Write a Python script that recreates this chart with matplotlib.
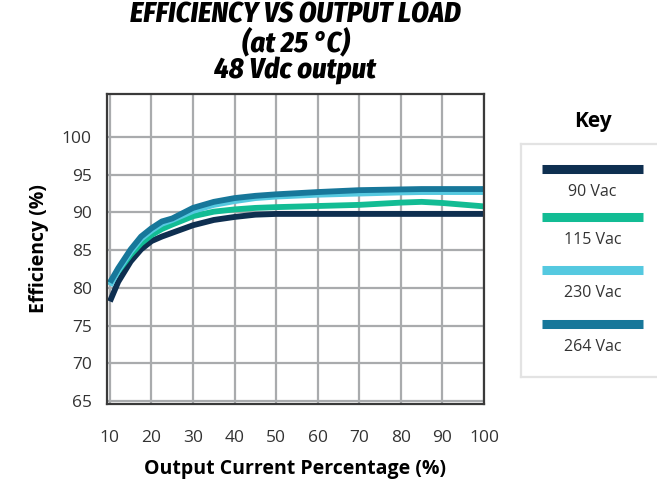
import matplotlib
matplotlib.use("Agg")
import matplotlib.pyplot as plt
from matplotlib import font_manager as fm

# ---- data ----
load_pct = [10, 12, 15, 17.5, 20, 22.5, 25, 30, 35, 40, 45, 50, 60, 70, 80, 85, 90, 100]
eff_90 = [78.2, 80.8, 83.5, 85.1, 86.2, 86.8, 87.3, 88.3, 89.0, 89.4, 89.7, 89.8, 89.8, 89.8, 89.8, 89.8, 89.8, 89.8]
eff_115 = [80.6, 82.2, 84.4, 85.9, 87.0, 87.8, 88.4, 89.5, 90.1, 90.4, 90.6, 90.7, 90.85, 91.0, 91.3, 91.4, 91.25, 90.8]
eff_230 = [80.3, 82.3, 84.8, 86.5, 87.6, 88.5, 89.0, 90.2, 91.0, 91.5, 91.9, 92.1, 92.35, 92.5, 92.65, 92.7, 92.7, 92.7]
eff_264 = [80.7, 82.6, 85.1, 86.8, 87.9, 88.8, 89.2, 90.6, 91.4, 91.9, 92.2, 92.4, 92.7, 92.95, 93.05, 93.1, 93.1, 93.1]
series_names = ["90 Vac", "115 Vac", "230 Vac", "264 Vac"]
x_ticks = [10, 20, 30, 40, 50, 60, 70, 80, 90, 100]
y_ticks = [65, 70, 75, 80, 85, 90, 95, 100]
title_lines = ["EFFICIENCY VS OUTPUT LOAD", "(at 25 °C)", "48 Vdc output"]

colors = ["#0e2f50", "#12bc94", "#55c9e0", "#17779a"]
series = [eff_90, eff_115, eff_230, eff_264]

names = {f.name for f in fm.fontManager.ttflist}
base_font = "Open Sans" if "Open Sans" in names else "DejaVu Sans"
title_font = base_font
for cand in ["Fira Sans Condensed", "Roboto Condensed", "IBM Plex Sans Condensed"]:
    if cand in names:
        title_font = cand
        break
plt.rcParams["font.family"] = [base_font, "DejaVu Sans"]

W, H = 657, 487
fig = plt.figure(figsize=(W / 100, H / 100), dpi=100)

def px_rect(x0, y0, x1, y1):
    return [x0 / W, 1 - y1 / H, (x1 - x0) / W, (y1 - y0) / H]

ax = fig.add_axes(px_rect(107, 94, 484, 404))
order = [0, 1, 3, 2]
for i in order:
    ax.plot(load_pct, series[i], color=colors[i], lw=4.2, solid_capstyle="butt",
            solid_joinstyle="round", zorder=3 + i * 0.1)

ax.set_xlim(9.3, 100)
ax.set_ylim(64.6, 105.7)
ax.set_xticks(x_ticks)
ax.set_yticks(y_ticks)
ax.grid(True, color="#a9abad", lw=1.6, zorder=1)
ax.set_axisbelow(True)
ax.tick_params(length=0, labelsize=12.5, labelcolor="#333333")
ax.tick_params(axis="x", pad=19)
ax.tick_params(axis="y", pad=11)
for s in ax.spines.values():
    s.set_color("#3a3a3a")
    s.set_linewidth(1.6)
    s.set_zorder(5)

ax.set_xlabel("Output Current Percentage (%)", fontsize=14, fontweight="bold", labelpad=9)
ax.set_ylabel("Efficiency (%)", fontsize=14, fontweight="bold", labelpad=9)

for line, yy in zip(title_lines, [15, 43, 71]):
    fig.text(295.5 / W, 1 - yy / H, line, ha="center", va="center",
             fontsize=20.5, fontweight=800, fontstyle="italic",
             family=[title_font, "DejaVu Sans"])

# ---- key ----
lax = fig.add_axes(px_rect(521, 144, 662, 377))
lax.set_xlim(521, 662)
lax.set_ylim(377, 144)
lax.set_xticks([])
lax.set_yticks([])
for s in lax.spines.values():
    s.set_color("#e3e3e3")
    s.set_linewidth(1.6)
line_y = [168.5, 217, 269.5, 323.5]
for i, name in enumerate(series_names):
    lax.plot([542, 643], [line_y[i]] * 2, color=colors[i], lw=6.5, solid_capstyle="butt")
    lax.text(592.5, line_y[i] + 23.5, name, ha="center", va="center", fontsize=11.5, color="#333333")
fig.text(592.5 / W, 1 - 121 / H, "Key", ha="center", va="center", fontsize=15, fontweight="bold")

fig.savefig("out.png", dpi=100)
